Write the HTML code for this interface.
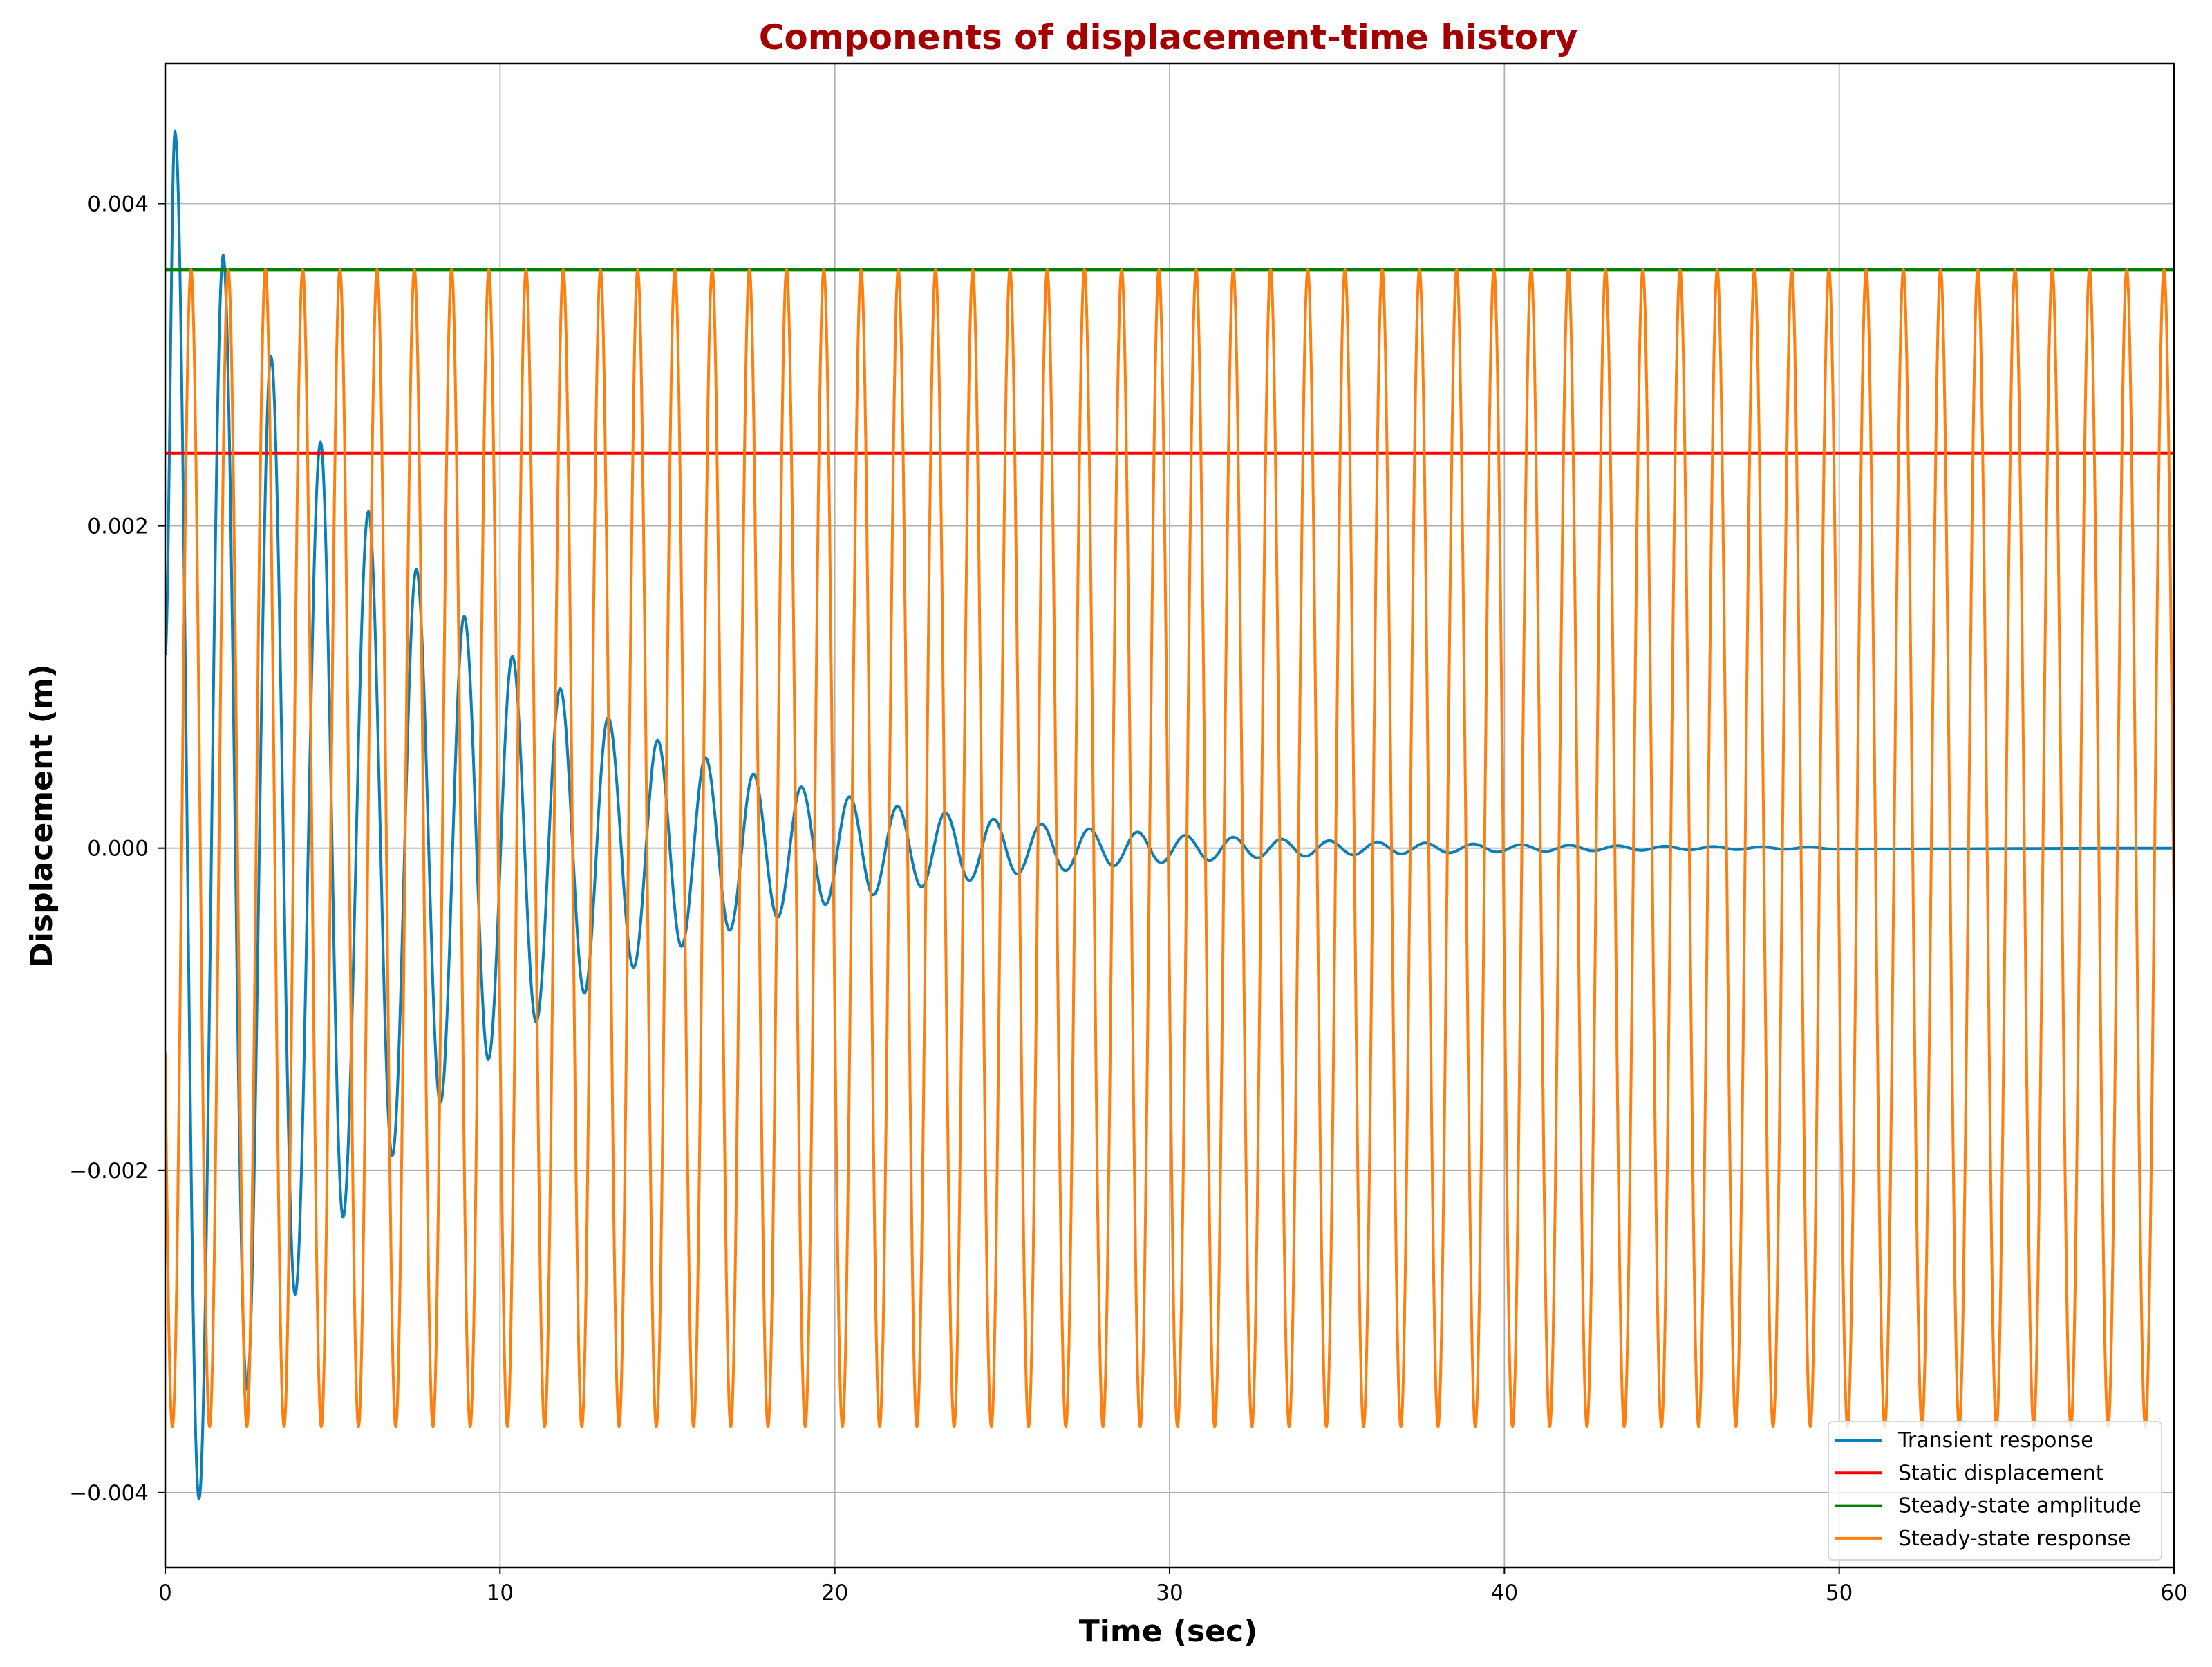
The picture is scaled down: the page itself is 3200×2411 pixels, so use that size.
<!DOCTYPE html>
<html><head><meta charset="utf-8"><style>
html,body{margin:0;padding:0;background:#fff;}
svg{display:block;font-family:"Liberation Sans","DejaVu Sans",sans-serif;}
</style></head><body>
<svg id="chart" width="3200" height="2411" viewBox="0 0 3200 2411" xmlns="http://www.w3.org/2000/svg">
<rect width="3200" height="2411" fill="#fff"/>
<g id="grid"></g>
<g id="series"></g>
<rect x="239" y="92" width="2906" height="2175" fill="none" stroke="#000" stroke-width="2.5"/>
<g id="ticks"></g>
<text x="1690" y="71" text-anchor="middle" font-size="50" font-weight="bold" fill="#a50000" font-family="DejaVu Sans, Liberation Sans, sans-serif">Components of displacement-time history</text>
<text x="1690" y="2374" text-anchor="middle" font-size="44" font-weight="bold" font-family="DejaVu Sans, Liberation Sans, sans-serif">Time (sec)</text>
<text transform="translate(75,1180) rotate(-90)" text-anchor="middle" font-size="44" font-weight="bold" font-family="DejaVu Sans, Liberation Sans, sans-serif">Displacement (m)</text>
<g id="legend"></g>
</svg>
<script>
const xTicks = [0, 10, 20, 30, 40, 50, 60];
const xTickLabels = ["0", "10", "20", "30", "40", "50", "60"];
const yTicks = [-0.004, -0.002, 0.000, 0.002, 0.004];
const yTickLabels = ["\u22120.004", "\u22120.002", "0.000", "0.002", "0.004"];
const staticDisplacement = [0.00245];
const steadyAmplitude = [0.00359];
const steadyPeriod = [1.1119];
const steadyFirstPeakTime = [0.77];
const transientTimes = [0, 0.29, 1.01, 1.73, 2.44, 3.16, 3.88, 4.64, 5.31, 6.07, 6.78, 7.50, 8.22, 8.93, 9.65, 10.37, 11.08, 11.80, 12.52, 13.23, 13.99, 14.71, 15.42, 16.14, 16.86, 17.57, 18.29, 19.00, 19.72, 20.44, 21.15, 21.87, 22.59, 23.30, 24.02, 24.74, 25.45, 26.17, 26.89, 27.60, 28.32, 29.04, 29.75, 30.47, 31.19, 31.90, 32.62, 33.34, 34.05, 34.77, 35.49, 36.20, 36.92, 37.64, 38.35, 39.07, 39.79, 40.50, 41.22, 41.94, 42.65, 43.37, 44.09, 44.80, 45.52, 46.24, 46.95, 47.67, 48.39, 49.10, 49.82, 60];
const transientValues = [0.0012, 0.00445, -0.00404, 0.00368, -0.00336, 0.00305, -0.00277, 0.00252, -0.00229, 0.00209, -0.00191, 0.00173, -0.00158, 0.00144, -0.00131, 0.00119, -0.00108, 0.00099, -0.00090, 0.00081, -0.00074, 0.00067, -0.00061, 0.00056, -0.00051, 0.00046, -0.00043, 0.00038, -0.00035, 0.00032, -0.00029, 0.00026, -0.00024, 0.00022, -0.00020, 0.00018, -0.00016, 0.00015, -0.00014, 0.00012, -0.00011, 0.00010, -0.00009, 0.00008, -0.000075, 0.000068, -0.00006, 0.000056, -0.00005, 0.000046, -0.000042, 0.000038, -0.000035, 0.000032, -0.000029, 0.000026, -0.000024, 0.000022, -0.00002, 0.000018, -0.000016, 0.000015, -0.000013, 0.000012, -0.000011, 0.00001, -0.000009, 0.000008, -0.000007, 0.000007, -0.000006, 0];

const NS = "http://www.w3.org/2000/svg";
const X0 = 239, X1 = 3145, Y0 = 92, Y1 = 2267;
const xMin = 0, xMax = 60, yMin = -0.004464, yMax = 0.004869;
function xs(t){ return X0 + (t - xMin) / (xMax - xMin) * (X1 - X0); }
function ys(v){ return Y1 - (v - yMin) / (yMax - yMin) * (Y1 - Y0); }
function mk(tag, attrs, parent){ const e = document.createElementNS(NS, tag); for (const k in attrs) e.setAttribute(k, attrs[k]); parent.appendChild(e); return e; }

const grid = document.getElementById('grid');
const ticks = document.getElementById('ticks');
xTicks.forEach((t, i) => {
  const g = mk('line', {x1: xs(t), x2: xs(t), y1: Y0, y2: Y1, stroke: '#b0b0b0', 'stroke-width': 1.8}, grid);
  
  
  const tk = mk('line', {x1: xs(t), x2: xs(t), y1: Y1, y2: Y1 + 10, stroke: '#000', 'stroke-width': 2}, ticks);
  
  
  const lb = mk('text', {x: xs(t), y: Y1 + 47, 'text-anchor': 'middle', 'font-size': 31, 'font-family': 'DejaVu Sans, Liberation Sans, sans-serif'}, ticks);
  lb.textContent = xTickLabels[i];
  
  
});
yTicks.forEach((v, i) => {
  const g = mk('line', {x1: X0, x2: X1, y1: ys(v), y2: ys(v), stroke: '#b0b0b0', 'stroke-width': 1.8}, grid);
  
  
  const tk = mk('line', {x1: X0 - 10, x2: X0, y1: ys(v), y2: ys(v), stroke: '#000', 'stroke-width': 2}, ticks);
  
  
  const lb = mk('text', {x: X0 - 24, y: ys(v) + 11, 'text-anchor': 'end', 'font-size': 31, 'font-family': 'DejaVu Sans, Liberation Sans, sans-serif'}, ticks);
  lb.textContent = yTickLabels[i];
  
  
});

const series = document.getElementById('series');
const clip = mk('clipPath', {id: 'plotclip'}, series);
mk('rect', {x: X0, y: Y0, width: X1 - X0, height: Y1 - Y0}, clip);

let d = '';
for (let i = 0; i < transientTimes.length - 1; i++) {
  const ta = transientTimes[i], tb = transientTimes[i + 1], va = transientValues[i], vb = transientValues[i + 1];
  const n = Math.max(8, Math.ceil((tb - ta) * 40));
  for (let k = (i === 0 ? 0 : 1); k <= n; k++) {
    const f = k / n, t = ta + f * (tb - ta);
    const v = va + (vb - va) * (1 - Math.cos(Math.PI * f)) / 2;
    d += (d ? 'L' : 'M') + xs(t).toFixed(1) + ',' + ys(v).toFixed(1);
  }
}
let d2 = '';
const N = 12000;
for (let k = 0; k <= N; k++) {
  const t = xMin + k / N * (xMax - xMin);
  const v = steadyAmplitude[0] * Math.cos(2 * Math.PI * (t - steadyFirstPeakTime[0]) / steadyPeriod[0]);
  d2 += (k ? 'L' : 'M') + xs(t).toFixed(1) + ',' + ys(v).toFixed(1);
}
const pT = mk('path', {d: d, fill: 'none', stroke: '#0a7fb9', 'stroke-width': 4, 'clip-path': 'url(#plotclip)', 'stroke-linejoin': 'round'}, series);


const pS = mk('line', {x1: X0, x2: X1, y1: ys(staticDisplacement[0]), y2: ys(staticDisplacement[0]), stroke: '#ff0000', 'stroke-width': 4}, series);


const pA = mk('line', {x1: X0, x2: X1, y1: ys(steadyAmplitude[0]), y2: ys(steadyAmplitude[0]), stroke: '#008000', 'stroke-width': 4.5}, series);


const pR = mk('path', {d: d2, fill: 'none', stroke: '#ff7f0e', 'stroke-width': 4, 'clip-path': 'url(#plotclip)', 'stroke-linejoin': 'round'}, series);



const legend = document.getElementById('legend');
const lbox = mk('rect', {x: 2645, y: 2056, width: 482, height: 200, rx: 6, fill: '#fff', 'fill-opacity': 0.8, stroke: '#d8d8d8', 'stroke-width': 2}, legend);


const legendNames = ["Transient response", "Static displacement", "Steady-state amplitude", "Steady-state response"];
const legendColors = ['#0a7fb9', '#ff0000', '#008000', '#ff7f0e'];
legendNames.forEach((nm, i) => {
  const y = 2083 + i * 47.3;
  const ln = mk('line', {x1: 2654, x2: 2722, y1: y, y2: y, stroke: legendColors[i], 'stroke-width': 4}, legend);
  
  
  const tx = mk('text', {x: 2746, y: y + 10, 'font-size': 30, 'font-family': 'DejaVu Sans, Liberation Sans, sans-serif'}, legend);
  tx.textContent = nm;
  
  
});
</script>
</body></html>
